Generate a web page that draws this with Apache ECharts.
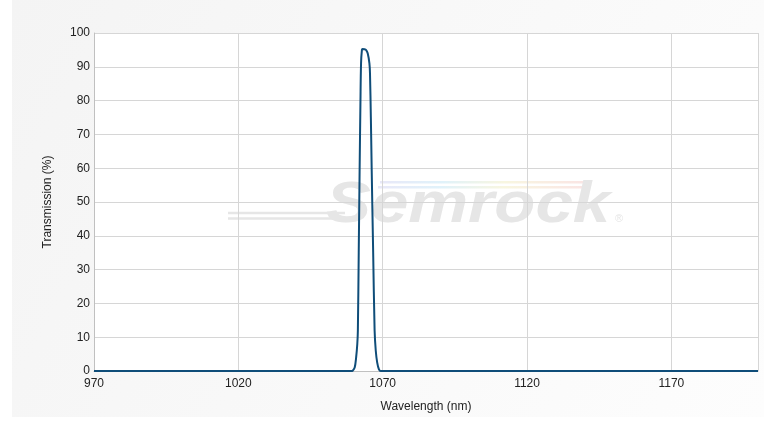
<!DOCTYPE html>
<html>
<head>
<meta charset="utf-8">
<script src="https://cdn.jsdelivr.net/npm/echarts@6/dist/echarts.min.js"></script>
<style>
html,body{margin:0;padding:0;background:#fff;}
#chart{width:764px;height:424px;}
</style>
</head>
<body>
<div id="chart"></div>
<script>
// Wavelength (nm)
const wavelengths = [970, 1059.0, 1059.6, 1060.3, 1060.8, 1061.2, 1061.4, 1061.7, 1062.0, 1062.3, 1062.5, 1062.8, 1063.0, 1063.6, 1064.2, 1064.8, 1065.4, 1065.6, 1065.9, 1066.2, 1066.7, 1067.2, 1067.6, 1068.1, 1068.7, 1069.3, 1080, 1200];
// Transmission (%)
const transmission = [0, 0, 0.1, 1, 4, 8, 12, 35, 59, 80, 91, 95, 95.3, 95.2, 95, 94, 91, 88, 75, 59, 35, 12, 6, 2.5, 0.5, 0, 0, 0];
const xTicks = [970, 1020, 1070, 1120, 1170];
const yTicks = [0, 10, 20, 30, 40, 50, 60, 70, 80, 90, 100];

const chart = echarts.init(document.getElementById('chart'), null, {renderer: 'canvas'});
const fontFam = 'Arial, "Liberation Sans", sans-serif';
const stripe = () => new echarts.graphic.LinearGradient(0, 0, 1, 0, [
  {offset: 0, color: '#e8e8f8'}, {offset: 0.3, color: '#e0f2fa'},
  {offset: 0.6, color: '#f8f6e0'}, {offset: 1, color: '#fae4e4'}]);
const option = {
  animation: false,
  backgroundColor: '#ffffff',
  graphic: [
    {
      type: 'rect', z: -10, silent: true,
      shape: {x: 12, y: 0, width: 752, height: 417},
      style: {fill: new echarts.graphic.LinearGradient(0, 0, 1, 1, [
        {offset: 0, color: '#f4f4f4'}, {offset: 1, color: '#fdfdfd'}])}
    },
    {
      type: 'rect', z: -9, silent: true,
      shape: {x: 94, y: 33, width: 664, height: 338},
      style: {fill: '#ffffff'}
    },
    {
      type: 'group', z: -2, silent: true,
      children: [
        {type: 'line', shape: {x1: 228, y1: 213, x2: 345, y2: 213}, style: {stroke: '#e6e6e6', lineWidth: 2.5}},
        {type: 'line', shape: {x1: 228, y1: 218.5, x2: 342, y2: 218.5}, style: {stroke: '#e6e6e6', lineWidth: 2.5}},
        {type: 'rect', shape: {x: 380, y: 181, width: 208, height: 2.5}, style: {fill: stripe()}},
        {type: 'rect', shape: {x: 378, y: 186, width: 210, height: 2.5}, style: {fill: stripe()}},
        {type: 'text', x: 326, y: 235, scaleX: 1.16,
          style: {text: 'Semrock', fill: '#e6e6e6', font: 'italic 900 58px ' + fontFam, verticalAlign: 'bottom'}},
        {type: 'text', x: 615, y: 213,
          style: {text: '®', fill: '#e6e6e6', font: '11px ' + fontFam}}
      ]
    }
  ],
  grid: {left: 94, right: 6, top: 33, bottom: 53, show: false, containLabel: false},
  xAxis: {
    type: 'value', min: 970, max: 1200, interval: 50,
    name: 'Wavelength (nm)', nameLocation: 'middle', nameGap: 30,
    nameTextStyle: {color: '#222', fontSize: 12, fontFamily: fontFam},
    axisLine: {show: true, lineStyle: {color: '#c0c0c0', width: 1}},
    axisTick: {show: false},
    axisLabel: {color: '#222', fontSize: 12, fontFamily: fontFam, margin: 7, showMaxLabel: false,
      formatter: v => xTicks.includes(v) ? String(v) : ''},
    splitLine: {show: true, lineStyle: {color: '#d6d6d6', width: 1}}
  },
  yAxis: {
    type: 'value', min: 0, max: 100, interval: 10,
    name: 'Transmission (%)', nameLocation: 'middle', nameGap: 40, nameRotate: 90,
    nameTextStyle: {color: '#222', fontSize: 12, fontFamily: fontFam},
    axisLine: {show: true, lineStyle: {color: '#c0c0c0', width: 1}},
    axisTick: {show: false},
    axisLabel: {color: '#222', fontSize: 12, fontFamily: fontFam, margin: 4,
      formatter: v => yTicks.includes(v) ? String(v) : ''},
    splitLine: {show: true, lineStyle: {color: '#d6d6d6', width: 1}}
  },
  series: [{
    type: 'line', z: 5,
    data: wavelengths.map((w, i) => [w, transmission[i]]),
    showSymbol: false, smooth: 0.3,
    lineStyle: {color: '#0f4d79', width: 2},
    itemStyle: {color: '#0f4d79'}
  }]
};
chart.setOption(option);
</script>
</body>
</html>
